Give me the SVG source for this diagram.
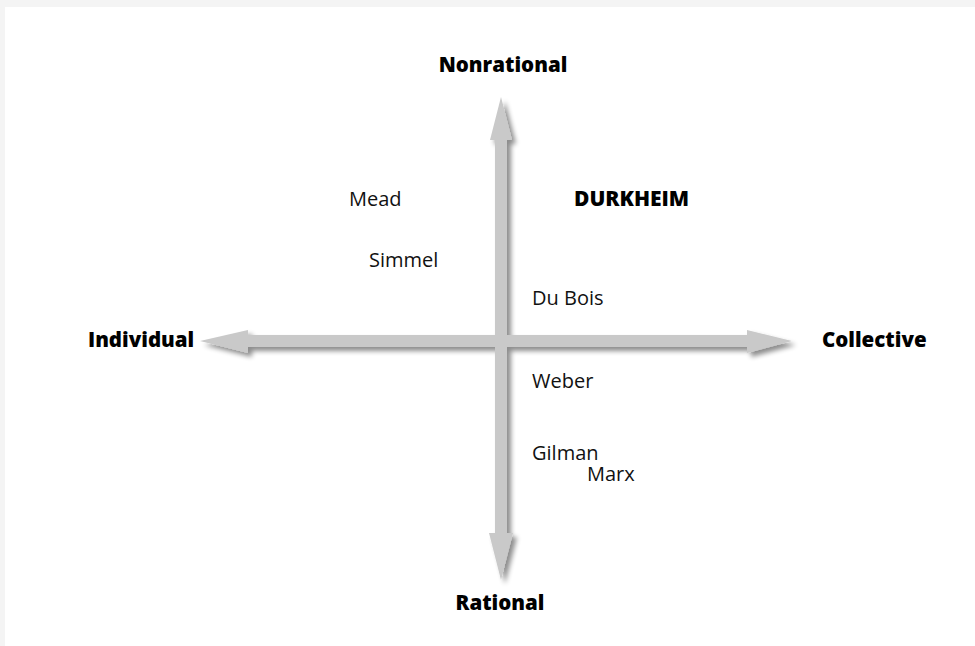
<svg xmlns="http://www.w3.org/2000/svg" width="975" height="646" viewBox="0 0 975 646">
  <defs>
    <filter id="shadow" x="-10%" y="-10%" width="130%" height="130%">
      <feGaussianBlur in="SourceAlpha" stdDeviation="2.5"/>
      <feOffset dx="4" dy="4" result="b"/>
      <feComponentTransfer><feFuncA type="linear" slope="0.45"/></feComponentTransfer>
      <feMerge><feMergeNode/><feMergeNode in="SourceGraphic"/></feMerge>
    </filter>
  </defs>
  <style>
    .axis { font-family: "Open Sans", "DejaVu Sans", sans-serif; font-weight: 800; font-size: 20.5px; fill: #000; }
    .name { font-family: "Open Sans", "Noto Sans", sans-serif; font-size: 20px; fill: #111; }
    .big { font-family: "Open Sans", "DejaVu Sans", sans-serif; font-weight: 800; font-size: 21px; fill: #000; }
    .arrow { fill: #c9c9c9; }
  </style>
  <rect x="0" y="0" width="975" height="646" fill="#f4f4f4"/>
  <rect x="5" y="7" width="970" height="639" fill="#ffffff"/>

  <g id="connectors" filter="url(#shadow)">
    <polygon class="arrow" points="200,341 248,330 248,335 747,335 747,330 792,341 747,353 747,347 248,347 248,353"/>
    <polygon class="arrow" points="501,97 512,140 507,140 507,533 513,533 501,580 489,533 495,533 495,140 490,140"/>
  </g>

  <g id="nonrational"><text class="axis" x="503" y="72" text-anchor="middle">Nonrational</text></g>
  <g id="rational"><text class="axis" x="500" y="610" text-anchor="middle">Rational</text></g>
  <g id="individual"><text class="axis" x="88" y="347">Individual</text></g>
  <g id="collective"><text class="axis" x="822" y="347">Collective</text></g>

  <g id="durkheim"><text class="big" x="574" y="206">DURKHEIM</text></g>
  <g id="mead"><text class="name" x="349" y="206">Mead</text></g>
  <g id="simmel"><text class="name" x="369" y="267">Simmel</text></g>
  <g id="dubois"><text class="name" x="532" y="305">Du Bois</text></g>
  <g id="weber"><text class="name" x="532" y="388">Weber</text></g>
  <g id="gilman"><text class="name" x="532" y="460">Gilman</text></g>
  <g id="marx"><text class="name" x="587" y="481">Marx</text></g>
</svg>
